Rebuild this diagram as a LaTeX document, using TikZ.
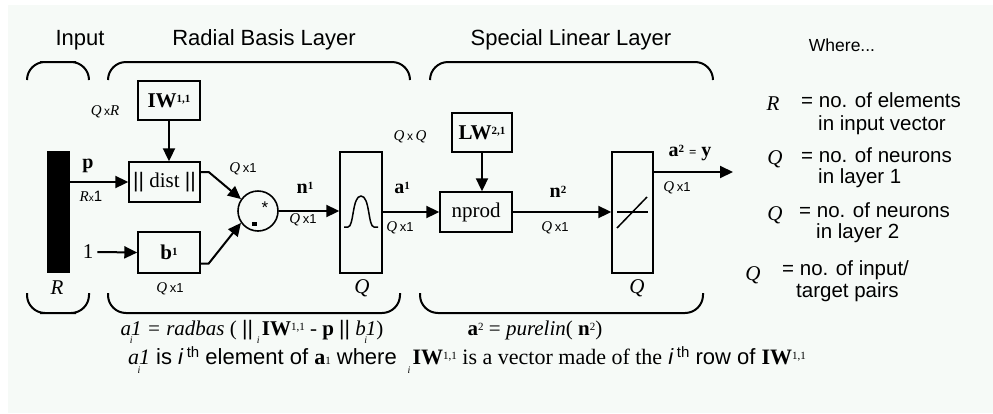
\documentclass[tikz,border=0pt]{standalone}
\usepackage{fontspec}
\setmainfont{Liberation Sans}
\newfontfamily\tms{Liberation Serif}
\usetikzlibrary{arrows.meta}
\definecolor{bgc}{RGB}{246,250,247}
\newcommand{\sups}[1]{\raisebox{0.45ex}{\fontsize{11}{11}\selectfont #1}}
\newcommand{\lowi}{\makebox[0pt]{\raisebox{-0.42em}{\fontsize{10}{10}\selectfont\tms\itshape i}}}
\newcommand{\qsym}{{\tms\itshape Q}}
\newcommand{\qdim}{\qsym\,{\fontsize{13}{13}\selectfont x1}}
\newcommand{\thsup}{\raisebox{0.6ex}{\fontsize{15}{15}\selectfont th}}

\begin{document}
\begin{tikzpicture}[x=1pt, y=-1pt, >={Triangle[length=13pt,width=12pt]},
    box/.style={draw, line width=1.4pt, inner sep=0pt},
    arr/.style={->, line width=2pt},
    brace/.style={line width=2pt, rounded corners=18pt},
    headlbl/.style={font=\fontsize{22}{22}\selectfont, inner sep=0pt},
    lgd/.style={font=\fontsize{20.5}{20.5}\selectfont, inner sep=0pt, anchor=west},
    sym/.style={font=\fontsize{21}{21}\selectfont\tms\itshape, inner sep=0pt},
    dimlbl/.style={font=\fontsize{15}{15}\selectfont, inner sep=0pt},
    bld/.style={font=\fontsize{20}{20}\selectfont\tms\bfseries, inner sep=0pt},
    boxtxt/.style={font=\fontsize{21}{21}\selectfont\tms}]

    % background
    \fill[bgc] (8,5) rectangle (993,413);
    \useasboundingbox (0,0) rectangle (993,413);

    % layer titles and braces
    \node[headlbl] (tinput) at (80,40) {Input};
    \node[headlbl] (trbl) at (264,40) {Radial Basis Layer};
    \node[headlbl] (tsll) at (571,40) {Special Linear Layer};
    \draw[brace] (27,80) |- (58,62) -| (89,80);
    \draw[brace] (108,80) |- (259,62) -| (410,80);
    \draw[brace] (430,80) |- (571,62) -| (713,80);
    \draw[brace] (27,293) |- (58,313) -| (89,293);
    \draw[brace] (108,293) |- (254,313) -| (400,293);
    \draw[brace] (420,293) |- (561,313) -| (703,293);

    % blocks
    \node[fill=black, minimum width=23pt, minimum height=122pt, inner sep=0pt] (bar) at (58.5,212) {};
    \node[box, boxtxt, minimum width=62pt, minimum height=39pt] (iw) at (169,100.5) {\bfseries IW\sups{1,1}};
    \node[box, boxtxt, minimum width=71pt, minimum height=40pt] (dist) at (164.5,182) {{\rmfamily||} dist {\rmfamily||}};
    \node[box, boxtxt, minimum width=62pt, minimum height=41pt] (bias) at (169,252.5) {\bfseries b\sups{1}};
    \node[draw, circle, line width=1.6pt, minimum size=40pt, inner sep=0pt] (mult) at (258,211) {};
    \node[box, minimum width=42pt, minimum height=121pt] (rb) at (361,212.5) {};
    \node[box, boxtxt, minimum width=60pt, minimum height=39pt] (lw) at (482,132.5) {\bfseries LW\sups{2,1}};
    \node[box, boxtxt, minimum width=72pt, minimum height=40pt] (nprod) at (476,212) {nprod};
    \node[box, minimum width=41pt, minimum height=121pt] (pl) at (632.5,212.5) {};
    \coordinate (yout) at (733,172);

    % inside the multiplier and transfer boxes
    \node[inner sep=0pt, font=\fontsize{17}{17}\selectfont] (star) at (265,208) {*};
    \fill (251.5,222) rectangle (256.5,226);
    \draw[line width=1.5pt] (344,227) -- (348,227) .. controls (354,227) and (352,196) .. (361,196)
        .. controls (370,196) and (368,227) .. (374,227) -- (378,227);
    \draw[line width=1.3pt] (617,212) -- (648,212);
    \draw[line width=1.5pt] (617,228) -- (647,197);

    % connections
    \node[inner sep=0pt, font=\fontsize{21}{21}\selectfont\tms] (one) at (88,252) {1};
    \draw[arr] (bar.east |- dist.west) -- (dist.west);
    \draw[arr] (one.east) ++(4,0) -- (bias.west);
    \draw[arr] (iw.south) -- (iw.south |- dist.north);
    \draw[arr] ([yshift=10pt]dist.east) -- ++(8,0) -- (mult.145);
    \draw[arr] ([yshift=-11pt]bias.east) -- ++(8,0) -- (mult.215);
    \draw[arr] (mult.east) -- (mult.east -| rb.west);
    \draw[arr] (rb.east |- nprod.west) -- (nprod.west);
    \draw[arr] (lw.south) -- (lw.south |- nprod.north);
    \draw[arr] (nprod.east) -- (nprod.east -| pl.west);
    \draw[arr] (yout -| pl.east) -- (yout);

    % signal labels
    \node[dimlbl] (dqr) at (105,112) {\qsym\,{\fontsize{12}{12}\selectfont x}{\tms\itshape R}};
    \node[bld] (lp) at (88,166) {p};
    \node[dimlbl] (drx) at (91,196) {{\tms\itshape R}{\fontsize{10}{10}\selectfont x}1};
    \node[dimlbl] (ddist) at (243,169) {\qdim};
    \node[dimlbl] (dbias) at (170,289) {\qdim};
    \node[sym] (lr) at (57,288) {R};
    \node[bld] (ln1) at (305,188) {n\sups{1}};
    \node[dimlbl] (dn1) at (303,220) {\qdim};
    \node[sym] (lq1) at (362,288) {Q};
    \node[bld] (la1) at (402,188) {a\sups{1}};
    \node[dimlbl] (da1) at (400,228) {\qdim};
    \node[dimlbl] (dqq) at (410,137) {\qsym\,{\fontsize{12}{12}\selectfont x}\,\qsym};
    \node[bld] (ln2) at (558,192) {n\sups{2}};
    \node[dimlbl] (dn2) at (555,228) {\qdim};
    \node[sym] (lq2) at (637,288) {Q};
    \node[bld] (la2) at (690,153) {a\sups{2} {\fontsize{13}{13}\selectfont=} y};
    \node[dimlbl] (da2) at (677,188) {\qdim};

    % legend
    \node[headlbl, font=\fontsize{17.5}{17.5}\selectfont] (twhere) at (842,45) {Where...};
    \node[sym] (sr) at (773,104) {R};
    \node[lgd] (tr1) at (801,100) {= no. of elements};
    \node[lgd] (tr2) at (818,125) {in input vector};
    \node[sym] (sq1) at (775,159) {Q};
    \node[lgd] (tq1) at (801,155) {= no. of neurons};
    \node[lgd] (tq2) at (818,178) {in layer 1};
    \node[sym] (sq2) at (775,215) {Q};
    \node[lgd] (tq3) at (799,210) {= no. of neurons};
    \node[lgd] (tq4) at (816,233) {in layer 2};
    \node[sym] (sq3) at (753,275) {Q};
    \node[lgd] (tq5) at (782,270) {= no. of input/};
    \node[lgd] (tq6) at (796,292) {target pairs};

    % formulas
    \node[inner sep=0pt, anchor=base, font=\fontsize{21}{21}\selectfont\tms] (f1) at (252,335)
        {\itshape a\lowi 1 = radbas \upshape(\ {\rmfamily||} \lowi\,{\bfseries IW}\sups{1,1} - {\bfseries p} {\rmfamily||} {\itshape b\lowi 1})};
    \node[inner sep=0pt, anchor=base, font=\fontsize{21}{21}\selectfont\tms] (f2) at (535,335)
        {{\bfseries a}\sups{2} = {\itshape purelin}( {\bfseries n}\sups{2})};
    \node[inner sep=0pt, anchor=base, font=\fontsize{22}{22}\selectfont] (f3) at (467,364)
        {{\tms\itshape a\lowi 1} is {\itshape i}\,\thsup{} element of {\tms\bfseries a}{\fontsize{11}{11}\selectfont\tms 1} where \ \lowi\,{\tms\bfseries IW}{\tms\sups{1,1} is a vector made of the} {\itshape i}\,\thsup{} row of {\tms\bfseries IW}{\tms\sups{1,1}}};
\end{tikzpicture}
\end{document}
